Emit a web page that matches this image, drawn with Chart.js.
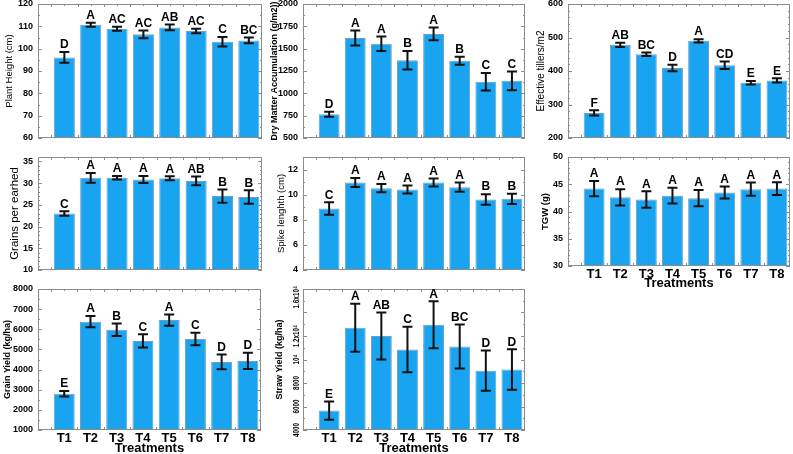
<!DOCTYPE html>
<html>
<head>
<meta charset="utf-8">
<script src="https://cdn.jsdelivr.net/npm/chart.js@4"></script>
<style>
  html, body { margin: 0; padding: 0; background: #fff; }
  body { position: relative; width: 793px; height: 454px; overflow: hidden; }
  canvas { position: absolute; }
</style>
</head>
<body>
<script>
const treatments = ['T1', 'T2', 'T3', 'T4', 'T5', 'T6', 'T7', 'T8'];

const plantHeight = [96.1, 110.7, 108.9, 106.4, 109.5, 107.9, 103.1, 103.7];
const plantHeightErr = [2.4, 0.9, 0.9, 1.7, 1.3, 1.0, 2.1, 1.3];
const plantHeightLetters = ['D', 'A', 'AC', 'AC', 'AB', 'AC', 'C', 'BC'];

const dryMatter = [765, 1620, 1555, 1370, 1665, 1365, 1130, 1140];
const dryMatterErr = [28, 84, 80, 103, 71, 45, 99, 105];
const dryMatterLetters = ['D', 'A', 'A', 'B', 'A', 'B', 'C', 'C'];

const tillers = [275, 478, 450, 409, 490, 417, 365, 372];
const tillersErr = [8, 6, 5, 10, 5, 11, 5, 6];
const tillersLetters = ['F', 'AB', 'BC', 'D', 'A', 'CD', 'E', 'E'];

const grains = [23.0, 31.2, 31.2, 30.8, 31.1, 30.5, 27.0, 26.8];
const grainsErr = [0.5, 1.1, 0.4, 0.8, 0.45, 1.0, 1.55, 1.55];
const grainsLetters = ['C', 'A', 'A', 'A', 'A', 'AB', 'B', 'B'];

const spike = [8.9, 10.97, 10.52, 10.41, 10.97, 10.6, 9.62, 9.67];
const spikeErr = [0.5, 0.35, 0.33, 0.32, 0.32, 0.36, 0.42, 0.41];
const spikeLetters = ['C', 'A', 'A', 'A', 'A', 'A', 'B', 'B'];

const tgw = [44.2, 42.6, 42.2, 42.9, 42.45, 43.5, 44.1, 44.2];
const tgwErr = [1.4, 1.5, 1.5, 1.45, 1.5, 1.1, 1.2, 1.15];
const tgwLetters = ['A', 'A', 'A', 'A', 'A', 'A', 'A', 'A'];

const grainYield = [2800, 6380, 5980, 5420, 6460, 5520, 4380, 4430];
const grainYieldErr = [140, 280, 310, 330, 280, 310, 370, 400];
const grainYieldLetters = ['E', 'A', 'B', 'C', 'A', 'C', 'D', 'D'];

const strawYield = [5650, 12700, 12000, 10850, 12950, 11100, 9050, 9150];
const strawYieldErr = [770, 2050, 2000, 1930, 2000, 1870, 1720, 1720];
const strawYieldLetters = ['E', 'A', 'AB', 'C', 'A', 'BC', 'D', 'D'];
const strawTicks = [4000, 6000, 8000, 10000, 12000, 14000, 16000];
const strawTickLabels = ['4000', '6000', '8000', '10⁴', '1.2x10⁴', '', '1.6x10⁴'];

const FONT = '"Liberation Sans", Arial, Helvetica, sans-serif';
const BAR = '#18a4f0';
const YW = 38;

// frame, inward ticks, error bars and letters
const decor = {
  id: 'decor',
  afterDatasetsDraw(chart, args, opts) {
    const { ctx, chartArea: a, scales: { x, y } } = chart;
    ctx.save();
    ctx.strokeStyle = '#8c8c8c';
    ctx.lineWidth = 1;
    ctx.beginPath();
    const vals = y.ticks.map(t => t.value);
    vals.forEach((v, i) => {
      const py = Math.round(y.getPixelForValue(v)) + 0.5;
      ctx.moveTo(a.left, py); ctx.lineTo(a.left + 4, py);
      ctx.moveTo(a.right - 4, py); ctx.lineTo(a.right, py);
      if (i < vals.length - 1) {
        for (let k = 1; k < opts.minor; k++) {
          const my = Math.round(y.getPixelForValue(v + (vals[i + 1] - v) * k / opts.minor)) + 0.5;
          ctx.moveTo(a.left, my); ctx.lineTo(a.left + 2, my);
          ctx.moveTo(a.right - 2, my); ctx.lineTo(a.right, my);
        }
      }
    });
    for (let v = 0.5; v < x.max; v += 0.5) {
      const px = Math.round(x.getPixelForValue(v)) + 0.5;
      const len = Number.isInteger(v) ? 2 : 3;
      ctx.moveTo(px, a.bottom); ctx.lineTo(px, a.bottom - len);
      ctx.moveTo(px, a.top); ctx.lineTo(px, a.top + len);
    }
    ctx.stroke();
    ctx.strokeRect(a.left + 0.5, a.top + 0.5, a.width - 1, a.height - 1);

    const ds = chart.data.datasets[0];
    const meta = chart.getDatasetMeta(0);
    ctx.strokeStyle = '#111';
    ctx.lineWidth = 2;
    ctx.fillStyle = '#000';
    ctx.font = 'bold 12px ' + FONT;
    ctx.textAlign = 'center';
    ctx.textBaseline = 'bottom';
    meta.data.forEach((bar, i) => {
      const v = ds.data[i].y, e = ds.errors[i];
      const yTop = y.getPixelForValue(v + e);
      const yBot = y.getPixelForValue(v - e);
      ctx.beginPath();
      ctx.moveTo(bar.x, yTop); ctx.lineTo(bar.x, yBot);
      ctx.moveTo(bar.x - 5, yTop); ctx.lineTo(bar.x + 5, yTop);
      ctx.moveTo(bar.x - 5, yBot); ctx.lineTo(bar.x + 5, yBot);
      ctx.stroke();
      ctx.fillText(ds.letters[i], bar.x, yTop - 1);
    });

    // rotated, condensed tick labels (straw yield axis)
    if (opts.rotLabels) {
      ctx.font = 'bold 9px ' + FONT;
      ctx.textBaseline = 'middle';
      y.ticks.forEach((t, i) => {
        const text = opts.rotLabels[i];
        if (!text) return;
        const half = ctx.measureText(text).width * 0.7 / 2;
        const py = Math.max(y.getPixelForValue(t.value), half + 1);
        ctx.save();
        ctx.translate(a.left - 6, py);
        ctx.rotate(-Math.PI / 2);
        ctx.scale(0.7, 1);
        ctx.fillText(text, 0, 0);
        ctx.restore();
      });
    }
    ctx.restore();
  }
};

function makePanel(p) {
  const canvas = document.createElement('canvas');
  canvas.width = YW + p.plotW + 2;
  canvas.height = p.padTop + p.plotH + p.xh;
  canvas.style.left = p.left + 'px';
  canvas.style.top = p.top + 'px';
  document.body.appendChild(canvas);

  new Chart(canvas, {
    type: 'bar',
    data: {
      datasets: [{
        data: p.values.map((v, i) => ({ x: i + 1, y: v })),
        errors: p.errors,
        letters: p.letters,
        backgroundColor: BAR,
        borderColor: '#6f9fc0',
        borderWidth: 1,
        barPercentage: 0.8,
        categoryPercentage: 1
      }]
    },
    options: {
      responsive: false,
      animation: false,
      devicePixelRatio: 1,
      layout: { padding: { top: p.padTop, right: 2, left: 0, bottom: 0 } },
      plugins: {
        legend: { display: false },
        tooltip: { enabled: false },
        decor: { minor: p.minor, rotLabels: p.rotLabels || null }
      },
      scales: {
        x: {
          type: 'linear',
          min: 0,
          max: 8.5,
          offset: false,
          grid: { display: false, drawTicks: false },
          border: { display: false },
          ticks: {
            display: !!p.showX,
            stepSize: 1,
            includeBounds: false,
            autoSkip: false,
            maxRotation: 0,
            padding: 1,
            color: '#000',
            font: { family: FONT, size: 13, weight: 'bold' },
            callback: v => treatments[v - 1] || ''
          },
          title: {
            display: !!p.showX,
            text: 'Treatments',
            padding: 0,
            color: '#000',
            font: { family: FONT, size: 13, weight: 'bold' }
          },
          afterFit: s => { s.height = p.xh; s.paddingLeft = 0; s.paddingRight = 0; }
        },
        y: {
          min: p.min,
          max: p.max,
          grid: { display: false, drawTicks: false },
          border: { display: false },
          afterBuildTicks: p.ticks ? s => { s.ticks = p.ticks.map(v => ({ value: v })); } : undefined,
          ticks: {
            display: !p.rotLabels,
            stepSize: p.step,
            includeBounds: false,
            padding: 5,
            color: '#000',
            font: { family: FONT, size: 9, weight: 'bold' },
            callback: v => String(v)
          },
          title: {
            display: true,
            text: p.title,
            padding: { top: p.titlePad, bottom: 0 },
            color: '#000',
            font: Object.assign({ family: FONT }, p.titleFont)
          },
          afterFit: s => { s.width = YW; s.paddingTop = 0; s.paddingBottom = 0; }
        }
      }
    },
    plugins: [decor]
  });
}

const panels = [
  { left: 0, top: 0, plotW: 224, padTop: 4, plotH: 134, xh: 5,
    values: plantHeight, errors: plantHeightErr, letters: plantHeightLetters,
    min: 60, max: 120, step: 10, minor: 2,
    title: 'Plant Height (cm)', titleFont: { size: 9.5 }, titlePad: 4 },
  { left: 265, top: 0, plotW: 222, padTop: 4, plotH: 134, xh: 5,
    values: dryMatter, errors: dryMatterErr, letters: dryMatterLetters,
    min: 500, max: 2000, step: 250, minor: 2,
    title: 'Dry Matter Accumulation (g/m2))', titleFont: { size: 9, weight: 'bold' }, titlePad: 4 },
  { left: 530, top: 0, plotW: 222, padTop: 4, plotH: 134, xh: 5,
    values: tillers, errors: tillersErr, letters: tillersLetters,
    min: 200, max: 600, step: 100, minor: 5,
    title: 'Effective tillers/m2', titleFont: { size: 10 }, titlePad: 5 },
  { left: 0, top: 145, plotW: 224, padTop: 12, plotH: 113, xh: 5,
    values: grains, errors: grainsErr, letters: grainsLetters,
    min: 10, max: 36, step: 5, minor: 5,
    title: 'Grains per earhed', titleFont: { size: 11.5 }, titlePad: 8 },
  { left: 265, top: 145, plotW: 222, padTop: 12, plotH: 113, xh: 5,
    values: spike, errors: spikeErr, letters: spikeLetters,
    min: 4, max: 13, step: 2, minor: 2,
    title: 'Spike lenghth (cm)', titleFont: { size: 9.5 }, titlePad: 11 },
  { left: 530, top: 145, plotW: 222, padTop: 12, plotH: 109, xh: 25, showX: true,
    values: tgw, errors: tgwErr, letters: tgwLetters,
    min: 30, max: 50, step: 5, minor: 5,
    title: 'TGW (g)', titleFont: { size: 9.5, weight: 'bold' }, titlePad: 10 },
  { left: 0, top: 285, plotW: 223, padTop: 4, plotH: 141, xh: 26, showX: true,
    values: grainYield, errors: grainYieldErr, letters: grainYieldLetters,
    min: 1000, max: 8000, step: 1000, minor: 2,
    title: 'Grain Yield (kg/ha)', titleFont: { size: 9, weight: 'bold' }, titlePad: 2 },
  { left: 265, top: 285, plotW: 222, padTop: 4, plotH: 141, xh: 26, showX: true,
    values: strawYield, errors: strawYieldErr, letters: strawYieldLetters,
    min: 4000, max: 16000, step: 2000, minor: 2, ticks: strawTicks, rotLabels: strawTickLabels,
    title: 'Straw Yield (kg/ha)', titleFont: { size: 9, weight: 'bold' }, titlePad: 9 }
];

panels.forEach(makePanel);
</script>
</body>
</html>
